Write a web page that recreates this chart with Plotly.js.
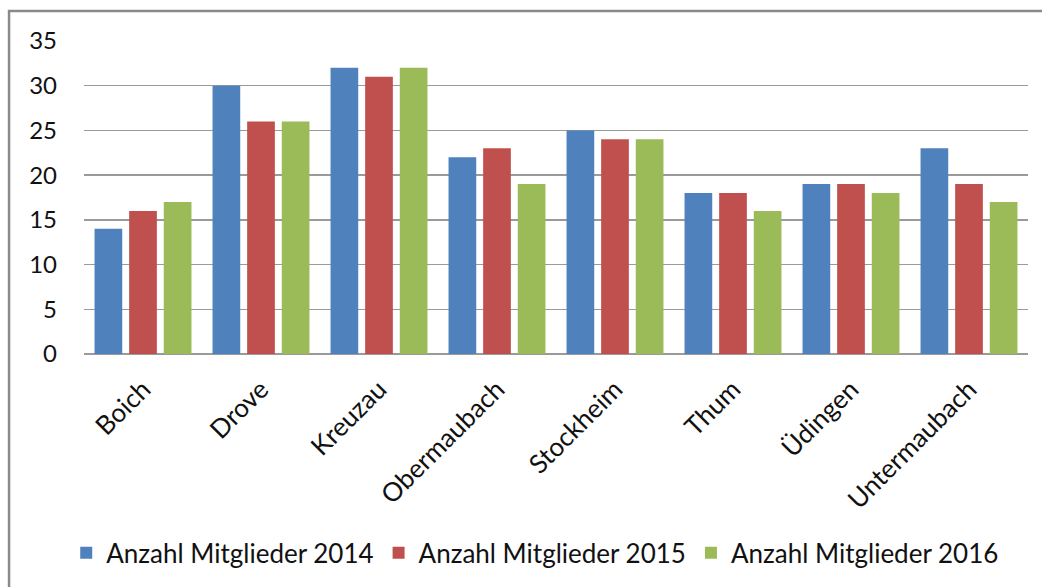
<!DOCTYPE html>
<html><head><meta charset="utf-8">
<script src="https://cdn.plot.ly/plotly-3.0.1.min.js"></script>
<style>html,body{margin:0;padding:0;background:#fff}#c{width:1042px;height:587px}</style>
</head><body><div id="c"></div>
<script>
const categories = ["Boich","Drove","Kreuzau","Obermaubach","Stockheim","Thum","Üdingen","Untermaubach"];
const seriesNames = ["Anzahl Mitglieder 2014","Anzahl Mitglieder 2015","Anzahl Mitglieder 2016"];
const v2014 = [14,30,32,22,25,18,19,23];
const v2015 = [16,26,31,23,24,18,19,19];
const v2016 = [17,26,32,19,24,16,18,17];
const colors = ["#4F81BD","#C0504D","#9BBB59"];

const data = [v2014, v2015, v2016].map((vals, i) => ({
  type: "bar", x: categories, y: vals, name: seriesNames[i],
  marker: {color: colors[i]}, hoverinfo: "skip"
}));

const layout = {
  width: 1042, height: 587,
  margin: {l: 84, r: 14, t: 41, b: 232},
  paper_bgcolor: "#fff", plot_bgcolor: "#fff",
  font: {family: "Lato, Liberation Sans, Arial, sans-serif", color: "#111", size: 22},
  barmode: "group", bargap: 0.12, bargroupgap: 0.2,
  xaxis: {
    tickangle: -45, showgrid: false, showline: false, zeroline: false,
    ticks: "", ticklabelstandoff: 14, tickfont: {size: 26}
  },
  yaxis: {
    range: [0, 35], dtick: 5, tick0: 0, showgrid: true, gridcolor: "#9a9a9a", gridwidth: 1.5,
    zeroline: true, zerolinecolor: "#9a9a9a", zerolinewidth: 1.5, showline: false,
    ticks: "", ticklabelstandoff: 26, tickfont: {size: 24}
  },
  showlegend: true,
  legend: {
    orientation: "h", x: 0.478, xanchor: "center", y: -0.63, yanchor: "middle",
    font: {size: 26},
    itemwidth: 30, tracegroupgap: 0
  },
  shapes: [{
    type: "rect", xref: "paper", yref: "paper",
    x0: -0.0794, x1: 1.2, y0: -1.2, y1: 1.0955,
    line: {color: "#8a8a8a", width: 2.5}, fillcolor: "rgba(0,0,0,0)", layer: "below"
  }]
};

Plotly.newPlot("c", data, layout, {displayModeBar: false, staticPlot: true});
</script></body></html>
